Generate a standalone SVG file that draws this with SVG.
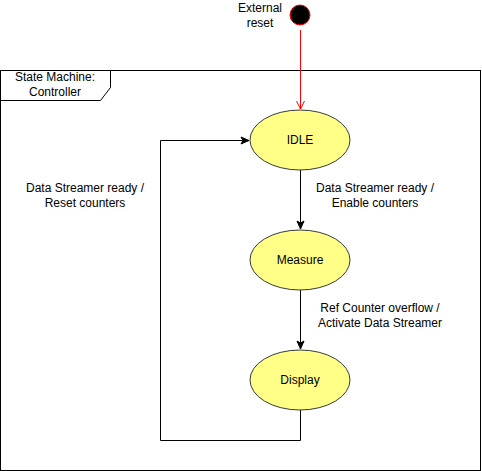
<svg xmlns="http://www.w3.org/2000/svg" width="482" height="471" viewBox="0 0 482 471">
<style>
text{font-family:"Liberation Sans",Arial,sans-serif;font-size:12px;fill:#000;text-anchor:middle}
.state{fill:#ffff88;stroke:#36393d;stroke-width:1}
.edge{fill:none;stroke:#000;stroke-width:1}
</style>
<defs>
<marker id="block" markerWidth="10" markerHeight="10" refX="9" refY="5" orient="auto" markerUnits="userSpaceOnUse">
<path d="M1,1.5 L9,5 L1,8.5 L3,5 Z" fill="#000" stroke="#000" stroke-width="1"/>
</marker>
<marker id="open" markerWidth="12" markerHeight="12" refX="10" refY="6" orient="auto" markerUnits="userSpaceOnUse">
<path d="M2,2 L10,6 L2,10" fill="none" stroke="#ff0000" stroke-width="1"/>
</marker>
</defs>
<rect width="482" height="471" fill="#fff"/>
<g id="frame">
<rect x="0.5" y="70.5" width="480" height="400" fill="none" stroke="#000"/>
<path d="M0.5,70.5 H110.5 V87.5 L100.5,100.5 H0.5 Z" fill="#fff" stroke="#000"/>
<text x="55" y="81">State Machine:</text>
<text x="55" y="96">Controller</text>
</g>
<g id="initial">
<circle cx="300" cy="15" r="10" fill="#000" stroke="#ff0000"/>
<text x="260" y="12">External</text>
<text x="260" y="27">reset</text>
</g>
<g id="connectors">
<path class="edge" d="M300.5,30 V109" stroke="#ff0000" style="stroke:#ff0000" marker-end="url(#open)"/>
<path class="edge" d="M300.5,170 V229" marker-end="url(#block)"/>
<path class="edge" d="M300.5,290 V349" marker-end="url(#block)"/>
<path class="edge" d="M300.5,410 V440.5 H160.5 V140.5 H249" marker-end="url(#block)"/>
</g>
<g id="labels">
<text x="375" y="192">Data Streamer ready /</text>
<text x="375" y="207">Enable counters</text>
<text x="380" y="312">Ref Counter overflow /</text>
<text x="380" y="327">Activate Data Streamer</text>
<text x="85" y="192">Data Streamer ready /</text>
<text x="85" y="207">Reset counters</text>
</g>
<g id="idle">
<ellipse class="state" cx="300" cy="140" rx="50" ry="30"/>
<text x="300" y="144">IDLE</text>
</g>
<g id="measure">
<ellipse class="state" cx="300" cy="260" rx="50" ry="30"/>
<text x="300" y="264">Measure</text>
</g>
<g id="display">
<ellipse class="state" cx="300" cy="380" rx="50" ry="30"/>
<text x="300" y="384">Display</text>
</g>
</svg>
